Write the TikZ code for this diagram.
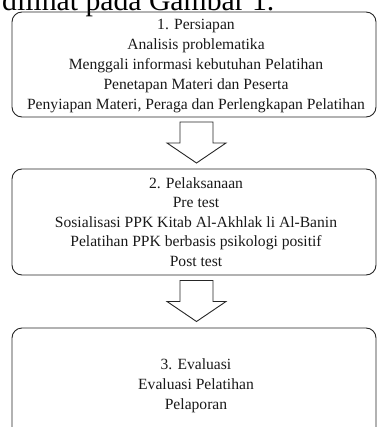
\documentclass[tikz,border=0pt]{standalone}
\usepackage{fontspec}
\setmainfont{Liberation Serif}
\begin{document}
\begin{tikzpicture}[x=1pt,y=1pt,
  stage/.style={draw=black!85, line width=0.9pt, rounded corners=10pt, inner sep=0pt},
  stagetext/.style={align=center, inner sep=0pt, text=black!90, font=\fontsize{15.6}{20.2}\selectfont},
  arrowshape/.style={draw=black!85, line width=0.9pt, fill=white, line join=miter},
  blockarr/.pic={\draw[arrowshape] (-16.5,0) -- (16.5,0) -- (16.5,-21) -- (29.5,-21) -- (0,-41) -- (-29.5,-21) -- (-16.5,-21) -- cycle;}
]
\useasboundingbox (0,0) rectangle (377,-427);
\clip (0,0) rectangle (377,-427);
% cropped caption text at the top
\node[anchor=base west, inner sep=0pt, font=\fontsize{29.7}{32}\selectfont] (cap) at (2,-10.5) {dilihat pada Gambar 1.};
% boxes
\node[stage, minimum width=364pt, minimum height=105pt] (b1) at (194,-64.5) {};
\node[stage, minimum width=364pt, minimum height=106pt] (b2) at (194,-222) {};
\node[stage, minimum width=364pt, minimum height=120pt] (b3) at (194,-388) {};
% texts
\node[stagetext] (t1) at (196,-66) {1. Persiapan\\Analisis problematika\\Menggali informasi kebutuhan Pelatihan\\Penetapan Materi dan Peserta\\Penyiapan Materi, Peraga dan Perlengkapan Pelatihan};
\node[stagetext, font=\fontsize{15.6}{19.6}\selectfont] (t2) at (196,-222) {2. Pelaksanaan\\Pre test\\Sosialisasi PPK Kitab Al-Akhlak li Al-Banin\\Pelatihan PPK berbasis psikologi positif\\Post test};
\node[stagetext, font=\fontsize{15.6}{20}\selectfont] (t3) at (196,-386) {3. Evaluasi\\Evaluasi Pelatihan\\Pelaporan};
% block arrows
\pic at (196.5,-122) {blockarr};
\pic at (196.5,-280.5) {blockarr};
\end{tikzpicture}
\end{document}
